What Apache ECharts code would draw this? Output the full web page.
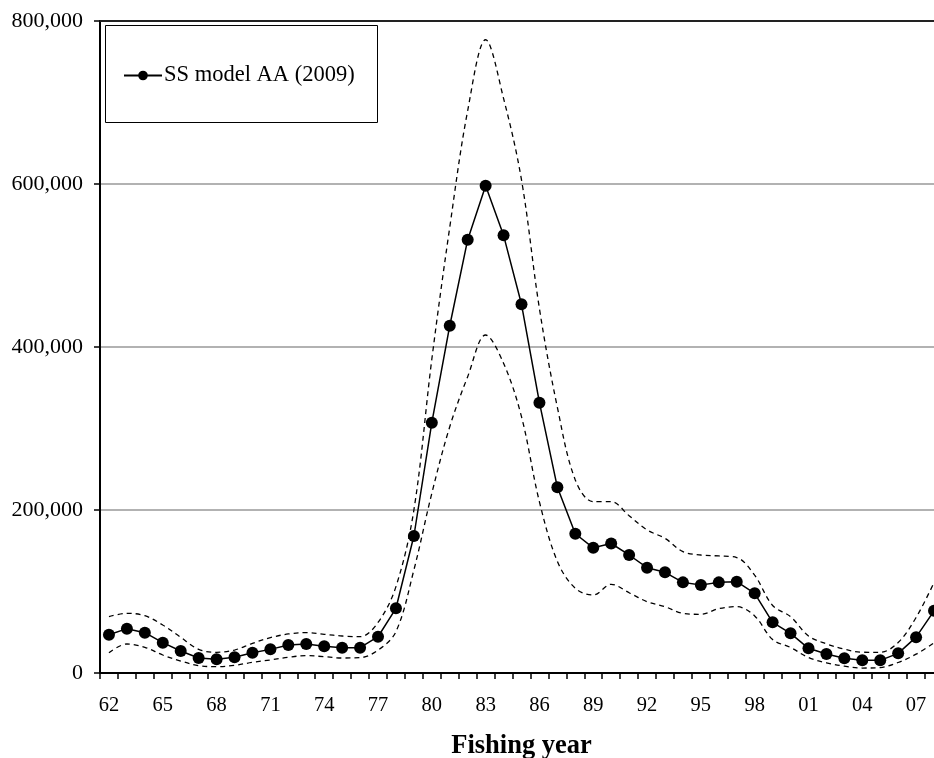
<!DOCTYPE html>
<html>
<head>
<meta charset="utf-8">
<script src="https://cdn.jsdelivr.net/npm/echarts@6/dist/echarts.min.js"></script>
<style>
  html, body { margin: 0; padding: 0; background: #fff; overflow: hidden; }
  #chart { width: 934px; height: 758px; }
</style>
</head>
<body>
<div id="chart"></div>
<script>
// Fishing years 1962-2008 (two-digit labels)
var years = ['62','63','64','65','66','67','68','69','70','71','72','73','74','75','76','77','78','79',
  '80','81','82','83','84','85','86','87','88','89','90','91','92','93','94','95','96','97','98','99',
  '00','01','02','03','04','05','06','07','08'];

// SS model AA (2009) estimates
var ssModelAA = [47000, 54400, 49500, 37200, 27000, 18400, 16800, 19300, 24900, 29000, 34400, 35600,
  32700, 31100, 31100, 44500, 79400, 168100, 307100, 426100, 531700, 597900, 537000, 452400, 331700,
  227800, 170900, 153600, 158900, 144800, 129200, 123500, 111200, 108000, 111200, 112000, 97800,
  62200, 48700, 30300, 23300, 18200, 15500, 15500, 24100, 44000, 76300];

// Upper and lower interval bounds
var upperBound = [69100, 73200, 70300, 58900, 43800, 29000, 25400, 28200, 36400, 43400, 47900, 49500,
  47500, 45400, 44600, 62000, 106000, 200000, 385000, 547000, 690000, 777000, 705000, 605000, 447000,
  326000, 236800, 210200, 210200, 193000, 175500, 165200, 148900, 144800, 143600, 141700, 120000,
  82800, 69100, 45500, 35800, 29200, 25500, 25400, 37400, 68100, 111000];

var lowerBound = [24900, 35600, 31500, 22100, 14700, 9000, 7800, 9400, 13100, 16000, 19300, 21300,
  20000, 18400, 18800, 28000, 50700, 126400, 220500, 302200, 363600, 414700, 380000, 314500, 210000,
  137000, 103900, 95700, 108800, 98500, 87500, 81400, 73200, 72000, 79000, 81400, 70000,
  41000, 31300, 19000, 12500, 8400, 6100, 6700, 12900, 23100, 37000];

var yTicks = { min: 0, max: 800000, step: 200000 };
var xAxisTitle = 'Fishing year';
var seriesName = 'SS model AA (2009)';

var FONT = '"Liberation Serif", "Times New Roman", serif';

function withCommas(v) {
  return String(v).replace(/\B(?=(\d{3})+(?!\d))/g, ',');
}

var chart = echarts.init(document.getElementById('chart'), null, { renderer: 'canvas' });

var boundStyle = { color: '#000', width: 1.3, type: [5, 4] };

chart.setOption({
  animation: false,
  backgroundColor: '#fff',
  textStyle: { fontFamily: FONT },
  // the plot runs a little past the right edge, so the last year is cut in half
  grid: { left: 100, top: 21, bottom: 85, width: 843, containLabel: false, outerBoundsMode: 'none' },
  graphic: [{
    type: 'rect',
    z: 3,
    shape: { x: 105.5, y: 25.5, width: 272, height: 97 },
    style: { fill: '#fff', stroke: '#000', lineWidth: 1 }
  }],
  legend: {
    data: [seriesName],
    left: 123,
    top: 63,
    padding: 0,
    itemWidth: 38,
    itemHeight: 12,
    z: 5,
    textStyle: { fontFamily: FONT, fontSize: 22.5, color: '#000', lineHeight: 25, padding: [0, 0, 0, -3] }
  },
  xAxis: [{
    type: 'category',
    data: years,
    boundaryGap: true,
    position: 'bottom',
    name: xAxisTitle,
    nameLocation: 'middle',
    nameGap: 60,
    nameTextStyle: { fontFamily: FONT, fontSize: 26.5, fontWeight: 'bold', color: '#000' },
    axisLine: { show: true, lineStyle: { color: '#000', width: 2 } },
    axisTick: { show: true, interval: 0, inside: false, length: 6, lineStyle: { color: '#000', width: 1.5 } },
    axisLabel: { interval: 2, margin: 22, fontFamily: FONT, fontSize: 20.5, color: '#000' },
    splitLine: { show: false }
  }, {
    type: 'category',
    data: years,
    position: 'top',
    axisLine: { show: true, lineStyle: { color: '#222', width: 2 } },
    axisTick: { show: false },
    axisLabel: { show: false },
    splitLine: { show: false }
  }],
  yAxis: {
    type: 'value',
    min: yTicks.min,
    max: yTicks.max,
    interval: yTicks.step,
    axisLine: { show: true, lineStyle: { color: '#000', width: 2 } },
    axisTick: { show: true, inside: false, length: 6, lineStyle: { color: '#000', width: 1.5 } },
    axisLabel: { margin: 17, fontFamily: FONT, fontSize: 22, color: '#000', formatter: withCommas },
    splitLine: { show: true, lineStyle: { color: '#999', width: 1.5 } }
  },
  series: [{
    name: 'Upper bound',
    type: 'line',
    data: upperBound,
    smooth: 0.35,
    symbol: 'none',
    lineStyle: boundStyle,
    z: 2
  }, {
    name: 'Lower bound',
    type: 'line',
    data: lowerBound,
    smooth: 0.35,
    symbol: 'none',
    lineStyle: boundStyle,
    z: 2
  }, {
    name: seriesName,
    type: 'line',
    data: ssModelAA,
    symbol: 'circle',
    symbolSize: 12,
    showAllSymbol: true,
    itemStyle: { color: '#000' },
    lineStyle: { color: '#000', width: 1.5 },
    z: 3
  }]
});
</script>
</body>
</html>
